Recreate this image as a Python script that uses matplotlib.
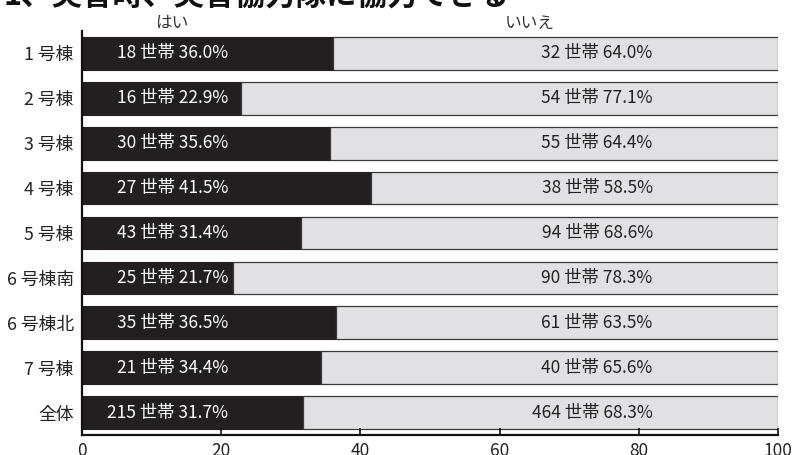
import matplotlib
matplotlib.use("Agg")
import matplotlib.pyplot as plt

plt.rcParams['font.family'] = ['Noto Sans CJK JP', 'DejaVu Sans']

title = "1、災害時、災害協力隊に協力できる"
categories = ["1 号棟", "2 号棟", "3 号棟", "4 号棟", "5 号棟", "6 号棟南", "6 号棟北", "7 号棟", "全体"]
yes_counts = [18, 16, 30, 27, 43, 25, 35, 21, 215]
yes_pct = [36.0, 22.9, 35.6, 41.5, 31.4, 21.7, 36.5, 34.4, 31.7]
no_counts = [32, 54, 55, 38, 94, 90, 61, 40, 464]
no_pct = [64.0, 77.1, 64.4, 58.5, 68.6, 78.3, 63.5, 65.6, 68.3]
series_names = ["はい", "いいえ"]
xticks = [0, 20, 40, 60, 80, 100]

DARK = "#231f20"
LIGHT = "#e1e1e3"
EDGE = "#3a3a3a"

fig = plt.figure(figsize=(8.08, 4.55), dpi=100)
ax = fig.add_axes([82/808, 20/455, (778-82)/808, (435-31)/455])

y = list(range(len(categories)))
h = 0.73
ax.barh(y, yes_pct, height=h, color=DARK, edgecolor=DARK, linewidth=0.8)
ax.barh(y, no_pct, left=yes_pct, height=h, color=LIGHT, edgecolor=EDGE, linewidth=0.9)

for i in y:
    ax.text(21, i, f"{yes_counts[i]} 世帯 {yes_pct[i]:.1f}%", ha='right', va='center',
            color='white', fontsize=12.5)
    ax.text(82, i, f"{no_counts[i]} 世帯 {no_pct[i]:.1f}%", ha='right', va='center',
            color='#222222', fontsize=12.5)

ax.set_ylim(len(categories) - 0.5, -0.5)
ax.set_xlim(0, 100)
ax.set_yticks(y)
ax.set_yticklabels(categories, fontsize=12.8, color='#222222')
ax.tick_params(axis='y', length=0, pad=6)
ax.set_xticks(xticks)
ax.set_xticklabels([str(t) for t in xticks], fontsize=12.5, color='#222222')
ax.tick_params(axis='x', direction='in', length=5, width=1.2, color='#111111', pad=5)

for s in ['top', 'right']:
    ax.spines[s].set_visible(False)
for s in ['left', 'bottom']:
    ax.spines[s].set_linewidth(1.6)
    ax.spines[s].set_color('#111111')

fig.text(172/808, 1 - 23/455, series_names[0], ha='center', va='center', fontsize=12, color='#333333')
fig.text(530/808, 1 - 23/455, series_names[1], ha='center', va='center', fontsize=12, color='#333333')

fig.text(4/808, 1 - 12/455, title, ha='left', va='bottom', fontsize=22, fontweight='bold', color='#111111')

fig.savefig("out.png", dpi=100)
